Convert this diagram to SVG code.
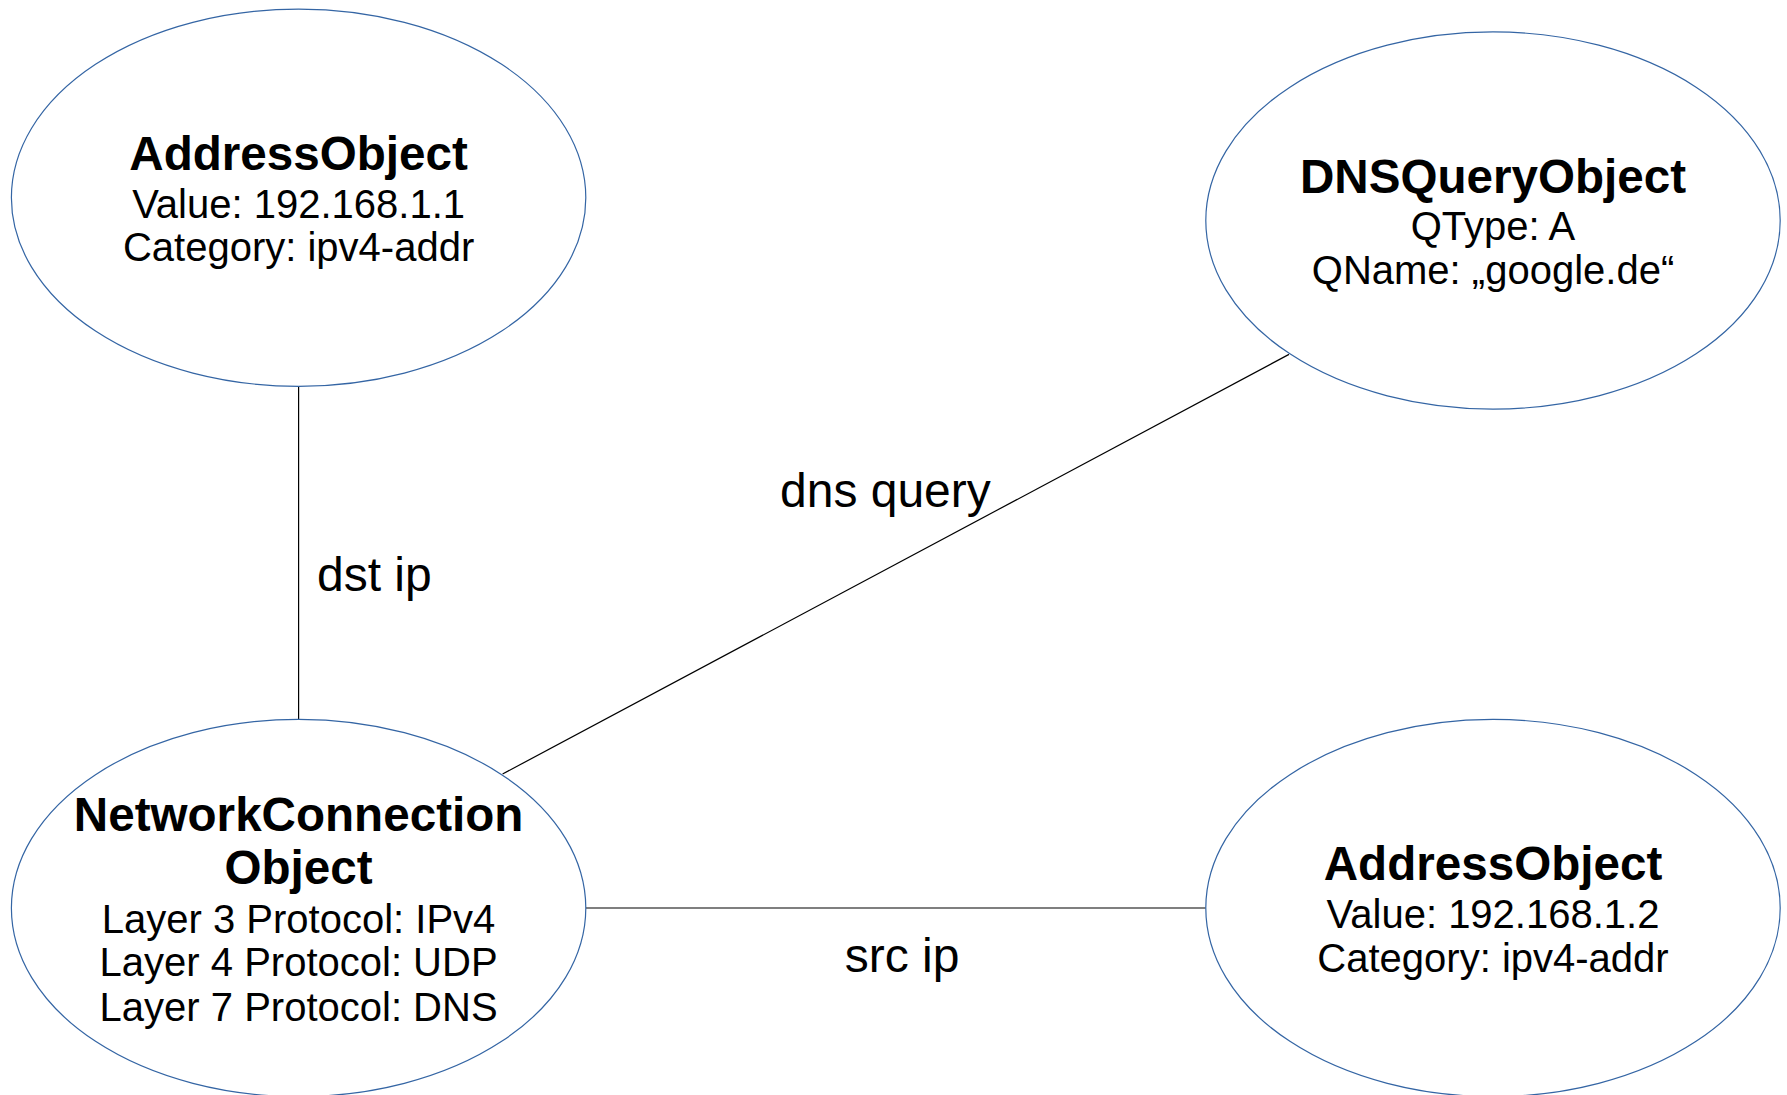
<svg xmlns="http://www.w3.org/2000/svg" width="1787" height="1095" viewBox="0 0 1787 1095">
  <style>
    .node { fill: #ffffff; stroke: #3465a4; stroke-width: 1.2; }
    .edge { stroke: #000000; stroke-width: 1.2; fill: none; }
    text { font-family: "Liberation Sans", Arial, sans-serif; fill: #000000; }
    .title { font-size: 47.6px; font-weight: bold; text-anchor: middle; }
    .body { font-size: 40px; text-anchor: middle; }
    .label { font-size: 48px; }
  </style>
  <rect x="0" y="0" width="1787" height="1095" fill="#ffffff"/>
  <g id="connectors">
    <line class="edge" x1="298.6" y1="386.3" x2="298.6" y2="719.4"/>
    <line class="edge" x1="502.6" y1="774" x2="1289" y2="354.4"/>
    <line class="edge" x1="585.8" y1="908" x2="1205.8" y2="908"/>
    <text class="label" x="317" y="591">dst ip</text>
    <text class="label" x="885.4" y="507" text-anchor="middle">dns query</text>
    <text class="label" x="902" y="971.5" text-anchor="middle">src ip</text>
  </g>
  <g id="address-object-1">
    <ellipse class="node" cx="298.6" cy="197.7" rx="287.2" ry="188.6"/>
    <text class="title" x="298.6" y="169.5">AddressObject</text>
    <text class="body" x="298.6" y="217.5">Value: 192.168.1.1</text>
    <text class="body" x="298.6" y="261">Category: ipv4-addr</text>
  </g>
  <g id="dns-query-object">
    <ellipse class="node" cx="1493" cy="220.5" rx="287.2" ry="188.6"/>
    <text class="title" x="1493" y="192.5">DNSQueryObject</text>
    <text class="body" x="1493" y="240.3">QType: A</text>
    <text class="body" x="1493" y="283.8">QName: „google.de“</text>
  </g>
  <g id="network-connection-object">
    <ellipse class="node" cx="298.6" cy="908" rx="287.2" ry="188.6"/>
    <text class="title" x="298.6" y="831">NetworkConnection</text>
    <text class="title" x="298.6" y="884.3">Object</text>
    <text class="body" x="298.6" y="932.5">Layer 3 Protocol: IPv4</text>
    <text class="body" x="298.6" y="976.3">Layer 4 Protocol: UDP</text>
    <text class="body" x="298.6" y="1020.8">Layer 7 Protocol: DNS</text>
  </g>
  <g id="address-object-2">
    <ellipse class="node" cx="1493" cy="908" rx="287.2" ry="188.6"/>
    <text class="title" x="1493" y="880">AddressObject</text>
    <text class="body" x="1493" y="928.2">Value: 192.168.1.2</text>
    <text class="body" x="1493" y="971.5">Category: ipv4-addr</text>
  </g>
</svg>
